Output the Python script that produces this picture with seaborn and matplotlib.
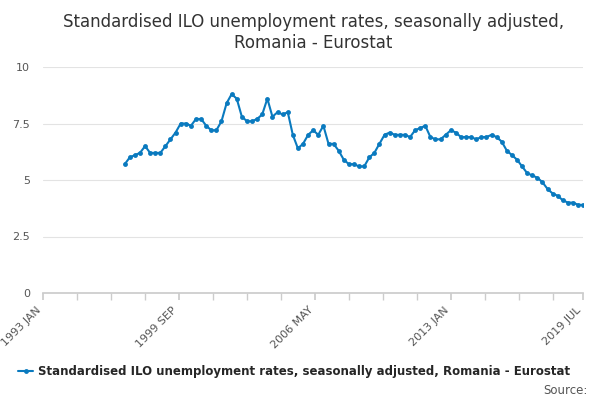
import matplotlib.pyplot as plt
import seaborn as sns
import pandas as pd

dates = pd.date_range('1997-01-01', periods=91, freq='3MS')
rates = [5.7, 6.0, 6.1, 6.2, 6.5, 6.2, 6.2, 6.2, 6.5, 6.8,
         7.1, 7.5, 7.5, 7.4, 7.7, 7.7, 7.4, 7.2, 7.2, 7.6,
         8.4, 8.8, 8.6, 7.8, 7.6, 7.6, 7.7, 7.9, 8.6, 7.8,
         8.0, 7.9, 8.0, 7.0, 6.4, 6.6, 7.0, 7.2, 7.0, 7.4,
         6.6, 6.6, 6.3, 5.9, 5.7, 5.7, 5.6, 5.6, 6.0, 6.2,
         6.6, 7.0, 7.1, 7.0, 7.0, 7.0, 6.9, 7.2, 7.3, 7.4,
         6.9, 6.8, 6.8, 7.0, 7.2, 7.1, 6.9, 6.9, 6.9, 6.8,
         6.9, 6.9, 7.0, 6.9, 6.7, 6.3, 6.1, 5.9, 5.6, 5.3,
         5.2, 5.1, 4.9, 4.6, 4.4, 4.3, 4.1, 4.0, 4.0, 3.9, 3.9]
tick_dates = ['1993-01-01', '1999-09-01', '2006-05-01', '2013-01-01', '2019-07-01']
tick_labels = ['1993 JAN', '1999 SEP', '2006 MAY', '2013 JAN', '2019 JUL']
name = 'Standardised ILO unemployment rates, seasonally adjusted, Romania - Eurostat'

def data_visualization(x_list, y_list):
    sns.set(style="white")
    fig, ax = plt.subplots(figsize=(6, 4), dpi=100)
    sns.lineplot(x=x_list, y=y_list, color='#0a7abf', marker='o',
                 markersize=3.5, markeredgewidth=0, linewidth=1.5,
                 label=name, ax=ax)
    ax.set_xlim(pd.Timestamp(tick_dates[0]), pd.Timestamp(tick_dates[-1]))
    ax.set_ylim(0, 10)
    ax.set_yticks([0, 2.5, 5, 7.5, 10])
    ax.set_yticklabels(['0', '2.5', '5', '7.5', '10'], color='#555555', fontsize=8)
    ax.yaxis.grid(True, color='#e3e3e3', linewidth=0.8)
    ax.set_xticks([pd.Timestamp(d) for d in tick_dates])
    ax.set_xticklabels(tick_labels, rotation=45, ha='right', color='#555555', fontsize=8)
    ax.set_xticks(pd.date_range('1994-09-01', '2019-07-01', freq='20MS'), minor=True)
    ax.tick_params(axis='x', which='both', length=5, color='#cccccc', bottom=True)
    for s in ['top', 'right', 'left']:
        ax.spines[s].set_visible(False)
    ax.spines['bottom'].set_color('#cccccc')
    ax.set_xlabel('')
    ax.set_ylabel('')
    plt.title('Standardised ILO unemployment rates, seasonally adjusted,\nRomania - Eurostat',
              fontsize=12, color='#333333', pad=14)
    ax.legend(loc='center', bbox_to_anchor=(0.49, 0.07), bbox_transform=fig.transFigure,
              frameon=False, fontsize=8.5, handlelength=1.3, handletextpad=0.4,
              prop={'weight': 'bold', 'size': 8.5})
    fig.text(0.98, 0.015, 'Source:', ha='right', fontsize=8.5, color='#555555')
    plt.subplots_adjust(left=0.072, right=0.972, top=0.8325, bottom=0.2675)
    plt.savefig('out.png')

data_visualization(dates, rates)
